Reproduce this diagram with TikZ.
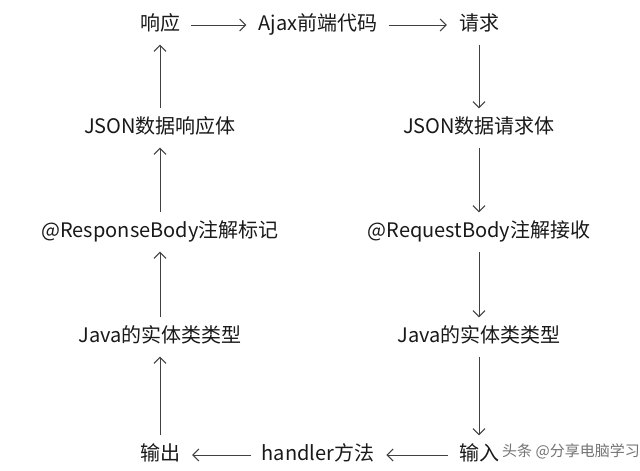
\documentclass[tikz,border=0pt]{standalone}
\usepackage{fontspec}
\setmainfont{Noto Sans CJK SC}
\usetikzlibrary{arrows.meta}
\begin{document}
\begin{tikzpicture}[x=1pt,y=-1pt,
  lbl/.style={inner sep=0pt, font=\fontsize{20}{24}\selectfont, text height=15pt, text depth=4pt, text=black!90},
  arr/.style={-{Straight Barb[length=6pt,width=12pt]}, draw=black!75, line width=1pt},
  harr/.style={arr, shorten >=12pt, shorten <=11pt},
  varr/.style={arr, shorten >=10pt, shorten <=10pt},
  wm/.style={inner sep=0pt, anchor=west, font=\fontsize{15}{18}\selectfont, text=black!55}]
\fill[white] (0,0) rectangle (640,471);
\useasboundingbox (0,0) rectangle (640,471);
\node[lbl] (resp) at (160,25) {响应};
\node[lbl] (ajax) at (318,25) {Ajax前端代码};
\node[lbl] (req) at (479,25) {请求};
\node[lbl] (jsonR) at (160,128) {JSON数据响应体};
\node[lbl] (jsonQ) at (479,128) {JSON数据请求体};
\node[lbl] (rb) at (160,232) {@ResponseBody注解标记};
\node[lbl] (qb) at (479,232) {@RequestBody注解接收};
\node[lbl] (javaL) at (160,337) {Java的实体类类型};
\node[lbl] (javaR) at (479,337) {Java的实体类类型};
\node[lbl] (out) at (160,455) {输出};
\node[lbl] (handler) at (318,455) {handler方法};
\node[lbl] (in) at (479,455) {输入};
\node[wm] (mark) at (502,451) {头条 @分享电脑学习};
\draw[harr] (resp) -- (ajax);
\draw[harr] (ajax) -- (req);
\draw[varr] (req.south) -- (jsonQ.north);
\draw[varr] (jsonQ.south) -- (qb.north);
\draw[varr] (qb.south) -- (javaR.north);
\draw[varr] (javaR.south) -- (in.north);
\draw[harr] (in) -- (handler);
\draw[harr] (handler) -- (out);
\draw[varr] (out.north) -- (javaL.south);
\draw[varr] (javaL.north) -- (rb.south);
\draw[varr] (rb.north) -- (jsonR.south);
\draw[varr] (jsonR.north) -- (resp.south);
\end{tikzpicture}
\end{document}
